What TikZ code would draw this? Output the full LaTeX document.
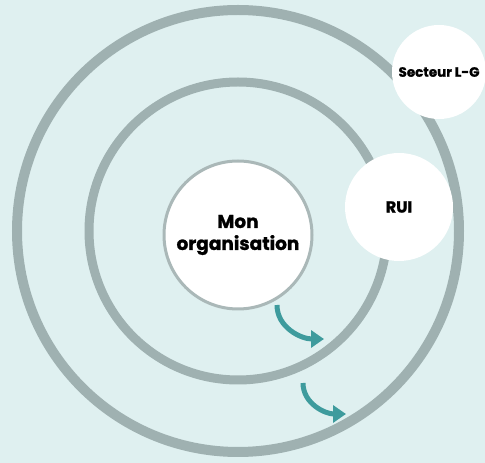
\documentclass[tikz,border=0pt]{standalone}
\usepackage{fontspec}
\setmainfont{Poppins}[BoldFeatures={FakeBold=1.2}]
\usetikzlibrary{arrows.meta}
\definecolor{fond}{HTML}{DFF0F0}
\definecolor{anneau}{HTML}{9FB1B1}
\definecolor{bord}{HTML}{AAB8B8}
\definecolor{sarcelle}{HTML}{3E9B9D}

\begin{document}
\begin{tikzpicture}[
                x=1pt, y=1pt,
                ring/.style={draw=anneau, line width=10pt},
                bulle/.style={circle, fill=white, inner sep=0pt, align=center, font=\bfseries},
                arrow/.style={sarcelle, line width=5pt, -{Triangle[length=13pt, width=17pt]}}
            ]
                \fill[fond] (0,0) rectangle (485,463);
                \useasboundingbox (0,0) rectangle (485,463);
                \coordinate (centre) at (238,232);

                % anneaux
                \draw[ring] (centre) circle[radius=221];
                \draw[ring, line width=9pt] (centre) circle[radius=149];

                % bulles
                \node[bulle, draw=bord, line width=3pt, minimum size=148pt, font=\bfseries\fontsize{18.5}{22}\selectfont] (org) at (238,228) {Mon\\organisation};
                \node[bulle, minimum size=108pt, font=\bfseries\fontsize{16}{18}\selectfont] (rui) at (399,256) {RUI};
                \node[bulle, minimum size=94pt, font=\bfseries\fontsize{13.5}{16}\selectfont] (secteur) at (439,391) {Secteur L-G};

                % fleches
                \coordinate (a1) at (277,158);
                \coordinate (b1) at (324,124);
                \coordinate (a2) at (303,80);
                \coordinate (b2) at (346,49);
                \draw[arrow] (a1) to[out=-90,in=180] (b1);
                \draw[arrow] (a2) to[out=-90,in=180] (b2);
            \end{tikzpicture}
\end{document}
